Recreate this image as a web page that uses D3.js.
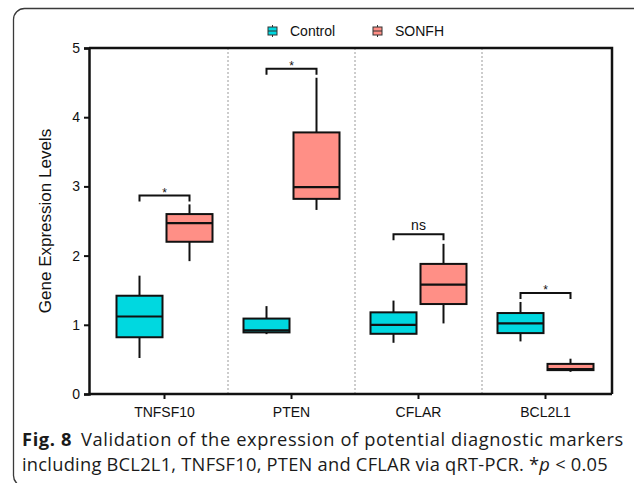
<!DOCTYPE html>
<html>
<head>
<meta charset="utf-8">
<script src="https://cdn.jsdelivr.net/npm/d3@7"></script>
<style>
  html, body { margin: 0; padding: 0; background: #fff; }
  svg { display: block; }
</style>
</head>
<body>
<div id="chart"></div>
<script>
// genes and groups
const genes = ["TNFSF10", "PTEN", "CFLAR", "BCL2L1"];
const groups = ["Control", "SONFH"];
const colors = ["#00d8e0", "#ff8f86"];

// box stats per gene: [whiskerLow, q1, median, q3, whiskerHigh]
const controlStats = [
    [0.52, 0.82, 1.12, 1.42, 1.71],
    [0.865, 0.89, 0.92, 1.09, 1.27],
    [0.74, 0.87, 1.00, 1.18, 1.35],
    [0.76, 0.88, 1.02, 1.17, 1.33]
];
const sonfhStats = [
    [1.92, 2.20, 2.47, 2.60, 2.74],
    [2.66, 2.82, 2.99, 3.78, 4.57],
    [1.02, 1.30, 1.58, 1.88, 2.17],
    [0.32, 0.345, 0.36, 0.435, 0.51]
];

// significance brackets
const bracketLevels = [2.87, 4.70, 2.31, 1.46];
const bracketLabels = ["*", "*", "ns", "*"];

const yTicks = [0, 1, 2, 3, 4, 5];

function init() {
    const W = 634, H = 483;
    const plot = { left: 89, right: 612, top: 48, bottom: 394 };
    const axisFont = "'Liberation Sans', Arial, sans-serif";

    const svg = d3.select("#chart").append("svg")
        .attr("width", W)
        .attr("height", H);

    // outer rounded frame of the figure
    svg.append("rect")
        .attr("x", 13.5).attr("y", 8.5)
        .attr("width", 640).attr("height", 478)
        .attr("rx", 11)
        .attr("fill", "none")
        .attr("stroke", "#3a3a3a")
        .attr("stroke-width", 1.3);

    const x = d3.scaleBand().domain(genes).range([101, 609]).padding(0);
    const xOff = d3.scalePoint().domain(groups).range([-25, 25]);
    const y = d3.scaleLinear().domain([0, 5]).range([plot.bottom, plot.top]);
    const boxW = 46;

    // dotted dividers between genes
    svg.append("g").selectAll("line")
        .data(genes.slice(1))
        .join("line")
        .attr("x1", d => x(d)).attr("x2", d => x(d))
        .attr("y1", plot.top).attr("y2", plot.bottom)
        .attr("stroke", "#9a9a9a")
        .attr("stroke-width", 1)
        .attr("stroke-dasharray", "2,2");

    // top and right frame lines
    svg.append("path")
        .attr("d", `M${plot.left},${plot.top}H${plot.right}V${plot.bottom}`)
        .attr("fill", "none")
        .attr("stroke", "#111")
        .attr("stroke-width", 2.5);

    // y axis
    const yAxis = svg.append("g")
        .attr("transform", `translate(${plot.left},0)`)
        .call(d3.axisLeft(y).tickValues(yTicks).tickFormat(d3.format("d")).tickSize(5).tickPadding(4));
    yAxis.select(".domain").attr("stroke", "#111").attr("stroke-width", 2.5);
    yAxis.selectAll(".tick line").attr("stroke", "#111").attr("stroke-width", 2);
    yAxis.selectAll("text")
        .attr("fill", "#111")
        .style("font-family", axisFont)
        .style("font-size", "14px");

    // x axis
    const xAxis = svg.append("g")
        .attr("transform", `translate(0,${plot.bottom})`)
        .call(d3.axisBottom(x).tickSize(5).tickPadding(8).tickSizeOuter(0));
    xAxis.select(".domain").attr("d", `M${plot.left},0H${plot.right}`)
        .attr("stroke", "#111").attr("stroke-width", 2.5);
    xAxis.selectAll(".tick line").attr("stroke", "#111").attr("stroke-width", 2);
    xAxis.selectAll("text")
        .attr("fill", "#111")
        .style("font-family", axisFont)
        .style("font-size", "14px");

    // y axis label
    svg.append("text")
        .attr("transform", `translate(51,${(plot.top + plot.bottom) / 2}) rotate(-90)`)
        .attr("text-anchor", "middle")
        .attr("fill", "#111")
        .style("font-family", axisFont)
        .style("font-size", "17px")
        .text("Gene Expression Levels");

    // boxes
    const boxData = [];
    genes.forEach((g, i) => {
        boxData.push({ gene: g, group: "Control", c: colors[0], s: controlStats[i] });
        boxData.push({ gene: g, group: "SONFH", c: colors[1], s: sonfhStats[i] });
    });
    const cx = d => x(d.gene) + x.bandwidth() / 2 + xOff(d.group);

    const boxes = svg.append("g").selectAll("g")
        .data(boxData)
        .join("g");

    boxes.append("line")
        .attr("x1", cx).attr("x2", cx)
        .attr("y1", d => y(d.s[0])).attr("y2", d => y(d.s[4]))
        .attr("stroke", "#111").attr("stroke-width", 2);

    boxes.append("rect")
        .attr("x", d => cx(d) - boxW / 2)
        .attr("width", boxW)
        .attr("y", d => y(d.s[3]))
        .attr("height", d => y(d.s[1]) - y(d.s[3]))
        .attr("fill", d => d.c)
        .attr("stroke", "#111")
        .attr("stroke-width", 2);

    boxes.append("line")
        .attr("x1", d => cx(d) - boxW / 2).attr("x2", d => cx(d) + boxW / 2)
        .attr("y1", d => y(d.s[2])).attr("y2", d => y(d.s[2]))
        .attr("stroke", "#111").attr("stroke-width", 2.2);

    // significance brackets
    const br = svg.append("g").selectAll("g")
        .data(genes)
        .join("g");
    const legH = 6;
    br.append("path")
        .attr("d", (g, i) => {
            const x0 = x(g) + x.bandwidth() / 2 + xOff("Control");
            const x1 = x(g) + x.bandwidth() / 2 + xOff("SONFH");
            const yy = y(bracketLevels[i]);
            return `M${x0},${yy + legH}V${yy}H${x1}V${yy + legH}`;
        })
        .attr("fill", "none")
        .attr("stroke", "#111")
        .attr("stroke-width", 2);
    br.append("text")
        .attr("x", g => x(g) + x.bandwidth() / 2)
        .attr("y", (g, i) => y(bracketLevels[i]) - (bracketLabels[i] === "*" ? 0 : 4))
        .attr("dy", (g, i) => bracketLabels[i] === "*" ? "0.1em" : "0")
        .attr("text-anchor", "middle")
        .attr("fill", "#111")
        .style("font-family", axisFont)
        .style("font-size", (g, i) => bracketLabels[i] === "*" ? "12px" : "14px")
        .text((g, i) => bracketLabels[i]);

    // legend
    const legX = [268, 373];
    const leg = svg.append("g").selectAll("g")
        .data(groups)
        .join("g")
        .attr("transform", (d, i) => `translate(${legX[i]},31)`);
    leg.append("line")
        .attr("x1", 4.5).attr("x2", 4.5).attr("y1", -6).attr("y2", 6)
        .attr("stroke", "#333").attr("stroke-width", 1);
    leg.append("rect")
        .attr("x", 0).attr("y", -4).attr("width", 9).attr("height", 8)
        .attr("fill", (d, i) => colors[i])
        .attr("stroke", "#333").attr("stroke-width", 1);
    leg.append("line")
        .attr("x1", 0).attr("x2", 9).attr("y1", 0).attr("y2", 0)
        .attr("stroke", "#333").attr("stroke-width", 1);
    leg.append("text")
        .attr("x", 22).attr("y", 0).attr("dy", "0.35em")
        .attr("fill", "#111")
        .style("font-family", axisFont)
        .style("font-size", "14px")
        .text(d => d);

    // caption
    const cap = svg.append("g")
        .style("font-family", "'Open Sans', 'Noto Sans', sans-serif")
        .style("font-size", "18.3px")
        .attr("fill", "#1a1a1a");
    const l1 = cap.append("text").attr("x", 22).attr("y", 446);
    l1.append("tspan").attr("font-weight", "bold").text("Fig. 8");
    l1.append("tspan").attr("dx", 9).text("Validation of the expression of potential diagnostic markers");
    const l2 = cap.append("text").attr("x", 22).attr("y", 471);
    l2.append("tspan").text("including BCL2L1, TNFSF10, PTEN and CFLAR via qRT-PCR. *");
    l2.append("tspan").attr("font-style", "italic").text("p");
    l2.append("tspan").text(" < 0.05");

    // stretch each line slightly with letter spacing to the reference widths
    [[l1, 600], [l2, 586]].forEach(([t, target]) => {
        const w = t.node().getComputedTextLength();
        const n = t.text().length;
        const ls = Math.max(-0.4, Math.min(0.6, (target - w) / n));
        t.style("letter-spacing", ls + "px");
    });
}

window.onload = init;
</script>
</body>
</html>
